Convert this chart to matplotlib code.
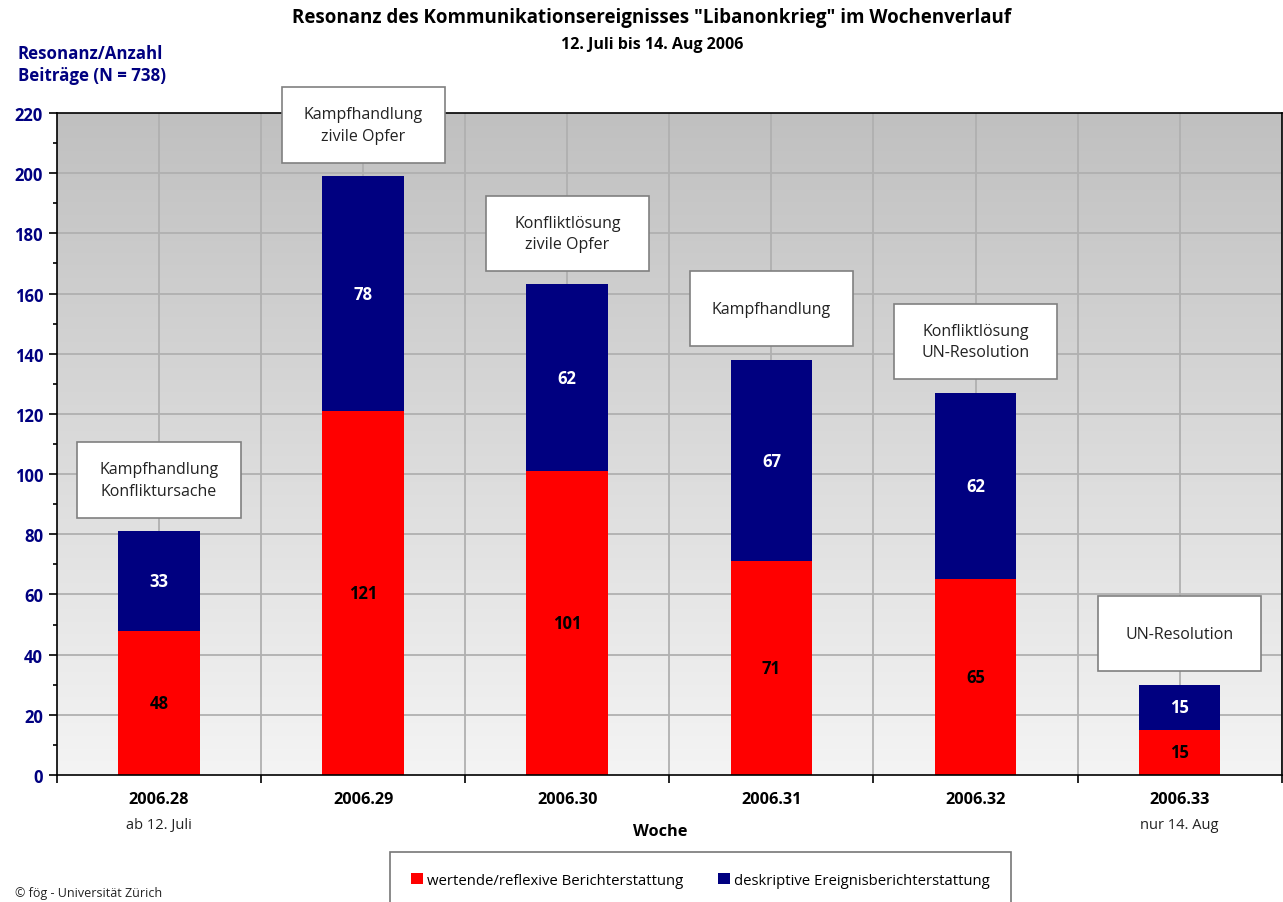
import matplotlib.pyplot as plt
import numpy as np
from matplotlib.patches import Rectangle

plt.rcParams['font.family'] = ['Open Sans', 'DejaVu Sans']

# Daten
weeks = ['2006.28', '2006.29', '2006.30', '2006.31', '2006.32', '2006.33']
week_notes = ['ab 12. Juli', '', '', '', '', 'nur 14. Aug']
wertend = [48, 121, 101, 71, 65, 15]
deskriptiv = [33, 78, 62, 67, 62, 15]
themen = ['Kampfhandlung\nKonfliktursache',
          'Kampfhandlung\nzivile Opfer',
          'Konfliktlösung\nzivile Opfer',
          'Kampfhandlung',
          'Konfliktlösung\nUN-Resolution',
          'UN-Resolution']
legend_labels = ['wertende/reflexive Berichterstattung',
                 'deskriptive Ereignisberichterstattung']

red = '#ff0000'
navy = '#000080'

fig = plt.figure(figsize=(12.83, 9.03), dpi=100)
ax = fig.add_axes([0.0444, 0.1406, 0.9546, 0.7332])

x = np.arange(len(weeks))
ax.set_xlim(-0.5, len(weeks) - 0.5)
ax.set_ylim(0, 220)

# Hintergrund mit Verlauf
grad = np.linspace(0, 1, 256).reshape(-1, 1)
ax.imshow(grad, extent=[0, 1, 0, 1], transform=ax.transAxes, aspect='auto',
          cmap=plt.matplotlib.colors.LinearSegmentedColormap.from_list(
              'bg', ['#f4f4f4', '#c0c0c0']), origin='lower', zorder=0)

# Gitter
for yy in range(20, 220, 20):
    ax.axhline(yy, color='#b0b0b0', lw=1.3, zorder=1)
for xx in np.arange(-0.5, len(weeks), 0.5)[1:]:
    ax.axvline(xx, color='#b0b0b0', lw=1.3, zorder=1)

b1 = ax.bar(x, wertend, width=0.4, color=red, zorder=2, label=legend_labels[0])
b2 = ax.bar(x, deskriptiv, width=0.4, bottom=wertend, color=navy, zorder=2,
            label=legend_labels[1])

for i in range(len(weeks)):
    ax.text(x[i], wertend[i] / 2, str(wertend[i]), ha='center', va='center',
            fontsize=12, fontweight='bold', color='black', zorder=3)
    ax.text(x[i], wertend[i] + deskriptiv[i] / 2, str(deskriptiv[i]),
            ha='center', va='center', fontsize=12, fontweight='bold',
            color='white', zorder=3)
    top = wertend[i] + deskriptiv[i]
    ax.add_patch(Rectangle((x[i] - 0.4, top + 4.5), 0.8, 25, facecolor='white',
                           edgecolor='#808080', lw=1.2, zorder=4, clip_on=False))
    ax.text(x[i], top + 4.5 + 12.5, themen[i], ha='center', va='center',
            fontsize=11.5, color='#222222', linespacing=1.45, zorder=5,
            clip_on=False)

for s in ax.spines.values():
    s.set_color('black')
    s.set_linewidth(1.2)
    s.set_zorder(3)

ax.set_yticks(range(0, 221, 20))
ax.set_yticks(range(10, 220, 20), minor=True)
ax.tick_params(axis='y', which='major', length=6, width=1.2, direction='out',
               labelcolor=navy, labelsize=12, pad=4)
ax.tick_params(axis='y', which='minor', length=3, width=1.2, direction='out')
for lbl in ax.get_yticklabels():
    lbl.set_fontweight('bold')

ax.set_xticks(np.arange(-0.5, len(weeks), 1.0))
ax.set_xticklabels([])
ax.tick_params(axis='x', which='major', length=6, width=1.2, direction='out')
for i in range(len(weeks)):
    ax.text(x[i], -8.0, weeks[i], ha='center', va='center', fontsize=11.7,
            fontweight='bold', clip_on=False)
    if week_notes[i]:
        ax.text(x[i], -16.5, week_notes[i], ha='center', va='center',
                fontsize=10.5, color='#222222', clip_on=False)

fig.text(0.515, 0.0785, 'Woche', ha='center', va='center', fontsize=11.8,
         fontweight='bold')

fig.text(0.508, 0.980, 'Resonanz des Kommunikationsereignisses "Libanonkrieg" im Wochenverlauf',
         ha='center', va='center', fontsize=13.5, fontweight='bold')
fig.text(0.508, 0.950, '12. Juli bis 14. Aug 2006', ha='center', va='center',
         fontsize=11.5, fontweight='bold')

fig.text(0.014, 0.928, 'Resonanz/Anzahl\nBeiträge (N = 738)', ha='left',
         va='center', fontsize=12.2, fontweight='bold', color=navy,
         linespacing=1.3)

fig.text(0.012, 0.011, '© fög - Universität Zürich', ha='left', va='center',
         fontsize=9, color='#222222')

leg = fig.legend(handles=[b1, b2], labels=legend_labels, loc='upper center',
                 bbox_to_anchor=(0.546, 0.0554), ncol=2, fontsize=10.7,
                 frameon=True, fancybox=False, edgecolor='#555555',
                 handlelength=0.8, handleheight=0.8, handletextpad=0.3,
                 columnspacing=2.3, borderpad=1.4, borderaxespad=0)
leg.get_frame().set_linewidth(1.2)

fig.savefig('out.png', dpi=100)
